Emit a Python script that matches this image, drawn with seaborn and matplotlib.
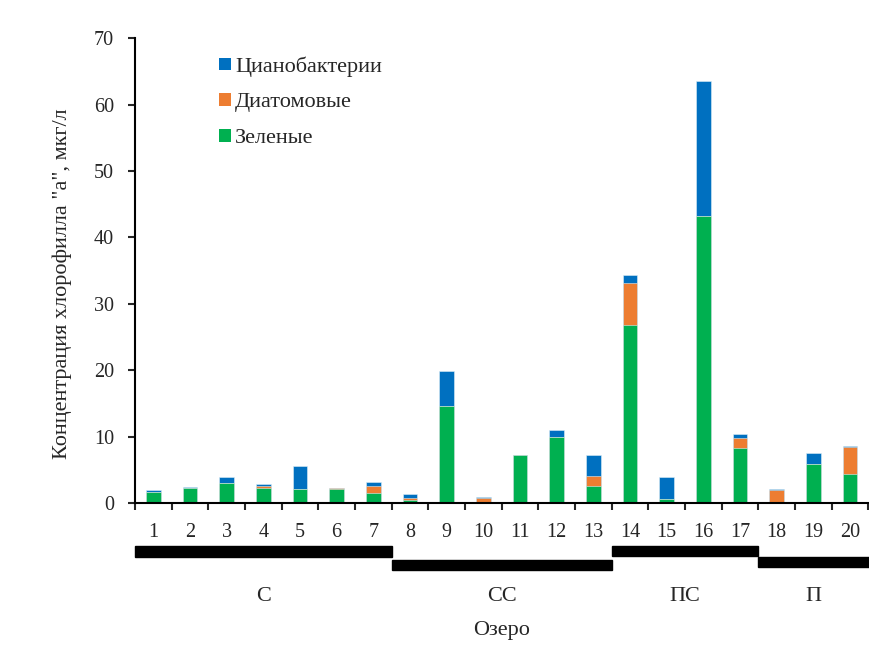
import numpy as np
import pandas as pd
import matplotlib
matplotlib.use("Agg")
import matplotlib.pyplot as plt
import seaborn as sns
from matplotlib.patches import Patch, Rectangle

# ---------------- DATA ----------------
lakes = [str(i) for i in range(1, 21)]
green = [1.7, 2.35, 3.1, 2.25, 2.15, 2.15, 1.6, 0.45, 14.7, 0.0,
         7.3, 10.0, 2.6, 26.8, 0.7, 43.3, 8.35, 0.0, 5.9, 4.4]
diatom = [0.05, 0.0, 0.0, 0.3, 0.0, 0.1, 0.95, 0.4, 0.0, 0.85,
          0.0, 0.0, 1.55, 6.3, 0.0, 0.0, 1.45, 2.05, 0.0, 4.0]
cyano = [0.3, 0.05, 0.8, 0.35, 3.45, 0.0, 0.65, 0.5, 5.2, 0.15,
         0.0, 1.0, 3.05, 1.2, 3.3, 20.3, 0.65, 0.05, 1.7, 0.25]

group_names = ["С", "СС", "ПС", "П"]
group_sizes = [7, 6, 4, 3]

series_labels = ["Цианобактерии", "Диатомовые", "Зеленые"]
colors = ["#0070C0", "#ED7D31", "#00B050"]

df = pd.DataFrame({"lake": lakes, "green": green, "diatom": diatom, "cyano": cyano})
df["g_d"] = df["green"] + df["diatom"]
df["total"] = df["g_d"] + df["cyano"]

# ---------------- STYLE ----------------
sns.set_style("white")
plt.rcParams["font.family"] = ["Liberation Serif", "DejaVu Serif"]
plt.rcParams["font.size"] = 14

fig = plt.figure(figsize=(8.7, 6.46), dpi=100)
ax = fig.add_axes([0.155, 0.221, 0.843, 0.72])

# stacked bars drawn as overlapping cumulative heights
for col, c in zip(["total", "g_d", "green"], colors):
    sns.barplot(data=df, x="lake", y=col, color=c, width=0.4,
                saturation=1, edgecolor="#dDeEF5", linewidth=0.4, ax=ax)

ax.set_xlim(-0.5, len(lakes) - 0.5)
ax.set_ylim(0, 70)
ax.set_yticks(range(0, 71, 10))
ax.set_xlabel("")
ax.set_ylabel('Концентрация хлорофилла "а", мкг/л', fontsize=16)
ax.yaxis.set_label_coords(-0.086, 0.473)

for s in ["top", "right"]:
    ax.spines[s].set_visible(False)
for s in ["left", "bottom"]:
    ax.spines[s].set_linewidth(1.5)
    ax.spines[s].set_color("black")

ax.tick_params(axis="y", direction="out", length=5, width=1.5, labelsize=14.5, pad=10, left=True)
ax.tick_params(axis="x", which="major", length=0, labelsize=14.5, pad=14)
ax.set_xticks(np.arange(-0.5, len(lakes)), minor=True)
ax.tick_params(axis="x", which="minor", direction="out", length=5, width=1.5, bottom=True)

# group bars below the axis
trans = ax.get_xaxis_transform()
levels = [(-0.093, -0.116), (-0.121, -0.144), (-0.093, -0.114), (-0.116, -0.138)]
start = -0.5
for name, n, (y0, y1) in zip(group_names, group_sizes, levels):
    end = start + n
    extra = 0.06 if name == group_names[-1] else 0
    ax.add_patch(Rectangle((start, y1), n + extra, y0 - y1, transform=trans,
                           color="black", clip_on=False))
    ax.text((start + end) / 2, -0.2, name, transform=trans,
            ha="center", va="center", fontsize=16)
    start = end

ax.text(0.5, -0.273, "Озеро", transform=ax.transAxes, ha="center", va="center", fontsize=16)

handles = [Patch(facecolor=c, edgecolor="none") for c in colors]
ax.legend(handles, series_labels, loc="upper left", bbox_to_anchor=(0.088, 1.004),
          frameon=False, fontsize=16, handlelength=0.5, handleheight=0.5,
          handletextpad=0.2, labelspacing=0.74)

fig.savefig("out.png", dpi=100)
